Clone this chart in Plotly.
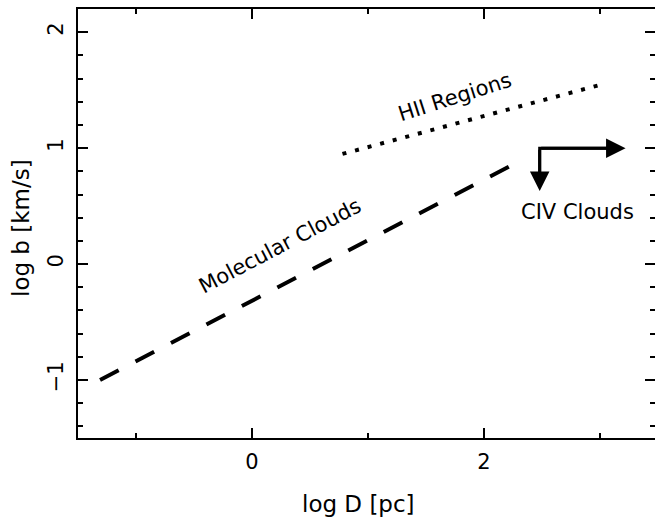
import plotly.graph_objects as go

# Data
mol_x = [-1.31, 2.33]
mol_y = [-1.0, 0.9]
hii_x = [0.78, 2.98]
hii_y = [0.95, 1.54]
civ_corner = [2.48, 1.0]
civ_x_end = 3.22
civ_y_end = 0.63

x_range = [-1.5, 3.474]
y_range = [-1.5, 2.2]

FONT = "DejaVu Sans"

fig = go.Figure()
fig.add_trace(go.Scatter(x=mol_x, y=mol_y, mode="lines",
                         line=dict(color="black", width=4, dash="21px,19px"),
                         showlegend=False, hoverinfo="skip"))
fig.add_trace(go.Scatter(x=hii_x, y=hii_y, mode="lines",
                         line=dict(color="black", width=4, dash="4px,9px"),
                         showlegend=False, hoverinfo="skip"))
# L-shaped arrow
fig.add_trace(go.Scatter(x=[civ_x_end - 0.05, civ_corner[0], civ_corner[0]],
                         y=[civ_corner[1], civ_corner[1], civ_y_end + 0.05],
                         mode="lines", line=dict(color="black", width=3),
                         showlegend=False, hoverinfo="skip"))
# right y axis ticks trace
fig.add_trace(go.Scatter(x=[None], y=[None], yaxis="y2", showlegend=False))

for (tx, ty) in [(civ_x_end, civ_corner[1]), (civ_corner[0], civ_y_end)]:
    fig.add_annotation(x=tx, y=ty, ax=civ_corner[0], ay=civ_corner[1],
                       xref="x", yref="y", axref="x", ayref="y",
                       text="", showarrow=True, arrowhead=2, arrowsize=1.3,
                       arrowwidth=3, arrowcolor="black", standoff=0, startstandoff=0)

fig.add_annotation(x=1.75, y=1.44, text="HII Regions", textangle=-17.7,
                   showarrow=False, font=dict(family=FONT, size=21, color="black"))
fig.add_annotation(x=0.24, y=0.16, text="Molecular Clouds", textangle=-27.7,
                   showarrow=False, font=dict(family=FONT, size=21, color="black"))
fig.add_annotation(x=2.81, y=0.45, text="CIV Clouds",
                   showarrow=False, font=dict(family=FONT, size=21, color="black"))

# axis titles (positions in paper coords derived from pixel layout)
fig.add_annotation(x=(358 - 78) / 577, y=-(504 - 438) / 429, xref="paper", yref="paper",
                   xanchor="center", yanchor="middle", text="log D [pc]",
                   showarrow=False, font=dict(family=FONT, size=23, color="black"))
fig.add_annotation(x=-(78 - 21) / 577, y=(438 - 228) / 429, xref="paper", yref="paper",
                   xanchor="center", yanchor="middle",
                   text="log b [km/s]", textangle=-90, showarrow=False,
                   font=dict(family=FONT, size=23, color="black"))

fig.update_layout(
    width=655, height=523,
    margin=dict(l=78, r=0, t=9, b=85),
    plot_bgcolor="white", paper_bgcolor="white",
    font=dict(family=FONT, size=21, color="black"),
    xaxis=dict(range=x_range, showline=True, linecolor="black", linewidth=2,
               mirror="ticks", ticks="inside", ticklen=10, tickwidth=2, tickcolor="black",
               tickvals=[0, 2], ticktext=["0", "2"], showgrid=False, zeroline=False,
               ticklabelstandoff=4,
               minor=dict(tickvals=[-1, 1, 3], ticks="inside", ticklen=5, tickwidth=2,
                          tickcolor="black", showgrid=False)),
    yaxis=dict(range=y_range, showline=True, linecolor="black", linewidth=2,
               ticks="inside", ticklen=10, tickwidth=2, tickcolor="black",
               tickvals=[-1, 0, 1, 2], ticktext=["\u22121", "0", "1", "2"], tickangle=-90,
               showgrid=False, zeroline=False, ticklabelstandoff=5,
               minor=dict(dtick=0.2, tick0=0, ticks="inside", ticklen=5, tickwidth=2,
                          tickcolor="black", showgrid=False)),
    yaxis2=dict(range=y_range, overlaying="y", side="right", showline=False,
                ticks="inside", ticklen=10, tickwidth=2, tickcolor="black",
                tickvals=[-1, 0, 1, 2], showticklabels=False, showgrid=False, zeroline=False,
                minor=dict(dtick=0.2, tick0=0, ticks="inside", ticklen=5, tickwidth=2,
                           tickcolor="black", showgrid=False)),
)

fig.write_html("out.html")
